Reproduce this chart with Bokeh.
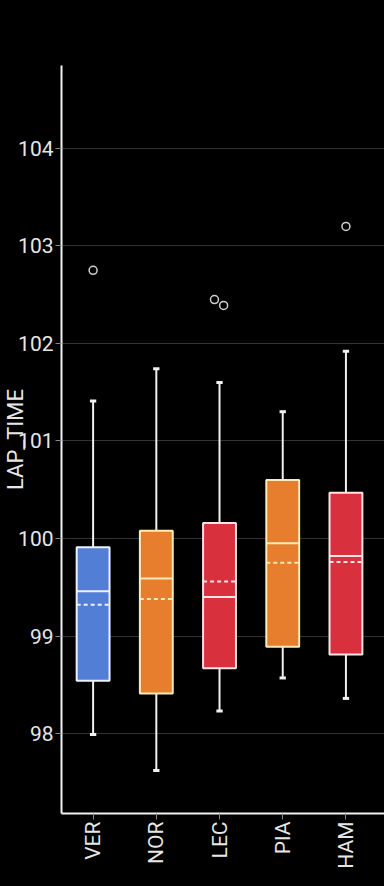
import math
from bokeh.plotting import figure
from bokeh.models import Range1d, FixedTicker, ColumnDataSource
from bokeh.embed import file_html
from bokeh.resources import INLINE

drivers = ["VER", "NOR", "LEC", "PIA", "HAM"]
colors = ["#537ed6", "#e67e2e", "#d9303e", "#e67e2e", "#d9303e"]
outline_colors = ["#eef2ff", "#ffeab8", "#ffe3e6", "#ffeab8", "#ffe3e6"]
lower_whisker = [97.99, 97.62, 98.23, 98.57, 98.36]
q1 = [98.54, 98.41, 98.67, 98.89, 98.81]
median = [99.46, 99.59, 99.40, 99.95, 99.82]
mean = [99.32, 99.38, 99.56, 99.75, 99.76]
q3 = [99.91, 100.08, 100.16, 100.60, 100.47]
upper_whisker = [101.41, 101.74, 101.60, 101.30, 101.92]
outlier_driver = ["VER", "LEC", "LEC", "HAM"]
outlier_value = [102.75, 102.45, 102.39, 103.20]
outlier_jitter = [0.0, -0.08, 0.065, 0.0]
y_ticks = [98, 99, 100, 101, 102, 103, 104]

FONT = "Roboto"
BOX_W = 0.52
CAP_W = 0.05

xs = list(range(len(drivers)))
src = ColumnDataSource(dict(
    x=xs, x0=[x - BOX_W / 2 for x in xs], x1=[x + BOX_W / 2 for x in xs],
    c0=[x - CAP_W for x in xs], c1=[x + CAP_W for x in xs],
    lw=lower_whisker, q1=q1, med=median, mean=mean, q3=q3, uw=upper_whisker,
    color=colors, oc=outline_colors,
))

p = figure(width=384, height=886, output_backend="svg", toolbar_location=None,
           x_range=Range1d(-0.5, len(drivers) - 0.39), y_range=Range1d(97.18, 104.85),
           min_border_left=40, min_border_right=0, min_border_top=65, min_border_bottom=73)
p.background_fill_color = "#000000"
p.border_fill_color = "#000000"
p.outline_line_color = None

# whiskers
p.segment(x0="x", y0="q3", x1="x", y1="uw", source=src, line_color="#f0f0f0", line_width=2)
p.segment(x0="x", y0="q1", x1="x", y1="lw", source=src, line_color="#f0f0f0", line_width=2)
p.segment(x0="c0", y0="uw", x1="c1", y1="uw", source=src, line_color="#f0f0f0", line_width=3)
p.segment(x0="c0", y0="lw", x1="c1", y1="lw", source=src, line_color="#f0f0f0", line_width=3)
# boxes
p.vbar(x="x", width=BOX_W, bottom="q1", top="q3", source=src, fill_color="color",
       line_color="oc", line_width=2)
p.segment(x0="x0", y0="med", x1="x1", y1="med", source=src, line_color="oc", line_width=2)
p.segment(x0="x0", y0="mean", x1="x1", y1="mean", source=src, line_color="oc",
          line_width=2, line_dash="4 3")
# outliers
ox = [drivers.index(d) + j for d, j in zip(outlier_driver, outlier_jitter)]
p.scatter(x=ox, y=outlier_value, size=8, marker="circle", fill_color=None,
          line_color="#cfcfcf", line_width=1.5)

p.xaxis.ticker = FixedTicker(ticks=xs)
p.xaxis.major_label_overrides = {i: d for i, d in enumerate(drivers)}
p.xaxis.major_label_orientation = math.pi / 2
p.yaxis.ticker = FixedTicker(ticks=y_ticks)
p.yaxis.axis_label = "LAP_TIME"

for ax in (p.xaxis[0], p.yaxis[0]):
    ax.axis_line_color = "#f2f2f2"
    ax.axis_line_width = 2
    ax.major_tick_line_color = "#888888"
    ax.major_tick_in = 0
    ax.major_tick_out = 6
    ax.minor_tick_line_color = None
    ax.major_label_text_color = "#e6e6e6"
    ax.major_label_text_font = FONT
    ax.major_label_text_font_size = "21px"
    ax.axis_label_text_color = "#e6e6e6"
    ax.axis_label_text_font = FONT
    ax.axis_label_text_font_size = "22px"
    ax.axis_label_text_font_style = "normal"
    ax.major_label_standoff = 2
p.yaxis.axis_label_standoff = -13

p.xgrid.grid_line_color = None
p.ygrid.grid_line_color = "#333333"
p.ygrid.grid_line_width = 1

html = file_html(p, INLINE)
html = html.replace("</head>", "<style>body{background:#000000;}</style></head>", 1)
open("out.html", "w").write(html)
